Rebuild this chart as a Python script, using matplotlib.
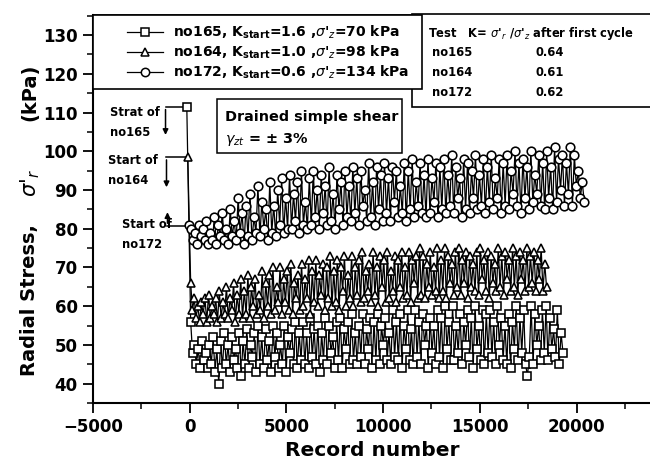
import numpy as np
import matplotlib
matplotlib.use("Agg")
import matplotlib.pyplot as plt
from matplotlib.lines import Line2D
from matplotlib.patches import Rectangle

plt.rcParams['font.family'] = ['DejaVu Sans']

# ---------------- data ----------------
# start points (record, radial stress kPa)
start_165 = (-150, 111.5)
start_164 = (-100, 98.5)
start_172 = (-50, 81.0)

# no165 (squares) radial stress during cycling, records 50 .. 19300
y165 = [56, 48, 50, 45, 49, 44, 51, 46, 48, 44,
        50, 45, 52, 43, 49, 40, 51, 44, 53, 45,
        50, 43, 52, 46, 49, 44, 53, 42, 51, 45,
        54, 44, 50, 47, 53, 43, 55, 45, 52, 44,
        54, 46, 51, 43, 55, 47, 53, 44, 50, 45,
        55, 43, 52, 48, 54, 45, 56, 44, 53, 46,
        56, 45, 53, 44, 57, 47, 54, 45, 55, 43,
        53, 46, 57, 45, 55, 48, 52, 44, 56, 46,
        57, 44, 54, 49, 56, 45, 58, 46, 53, 45,
        55, 47, 58, 45, 54, 49, 57, 44, 56, 46,
        58, 45, 55, 50, 57, 46, 53, 45, 59, 47,
        56, 46, 58, 44, 55, 49, 59, 46, 54, 45,
        59, 47, 56, 45, 58, 50, 55, 44, 57, 48,
        55, 45, 59, 47, 57, 44, 60, 49, 56, 46,
        60, 46, 55, 48, 58, 45, 56, 50, 59, 47,
        57, 44, 60, 49, 55, 46, 59, 45, 58, 48,
        59, 47, 56, 45, 60, 50, 57, 46, 55, 45,
        58, 44, 56, 49, 60, 46, 57, 48, 59, 45,
        42, 47, 60, 45, 58, 50, 55, 46, 59, 48,
        60, 46, 57, 49, 54, 47, 59, 45, 53, 48]
rec165 = (50, 19300)

# no164 (triangles), records 50 .. 18450
y164 = [66, 59, 62, 57, 60, 56, 61, 58, 62, 56,
        63, 57, 60, 58, 62, 56, 64, 57, 61, 58,
        65, 57, 62, 59, 66, 56, 63, 58, 67, 57,
        64, 58, 68, 57, 65, 60, 67, 58, 63, 59,
        69, 57, 66, 60, 68, 58, 70, 59, 65, 61,
        70, 58, 67, 61, 69, 59, 71, 58, 66, 62,
        68, 59, 71, 60, 67, 62, 72, 58, 69, 61,
        72, 60, 68, 63, 71, 59, 70, 62, 73, 60,
        69, 61, 72, 59, 70, 64, 73, 60, 68, 62,
        73, 60, 70, 63, 72, 61, 74, 62, 69, 64,
        71, 61, 74, 63, 70, 60, 73, 65, 72, 61,
        74, 62, 69, 64, 73, 61, 72, 65, 74, 62,
        70, 63, 74, 61, 72, 66, 73, 62, 75, 63,
        73, 62, 71, 65, 74, 63, 70, 64, 75, 62,
        72, 64, 75, 62, 73, 66, 71, 63, 74, 65,
        75, 63, 72, 66, 74, 62, 73, 65, 71, 64,
        74, 63, 75, 67, 72, 64, 74, 62, 73, 66,
        71, 64, 75, 65, 73, 63, 74, 67, 72, 64,
        75, 65, 73, 63, 74, 67, 72, 64, 75, 65,
        73, 66, 74, 64, 72, 67, 75, 64, 71, 65]
rec164 = (50, 18450)

# no172 (circles), records 50 .. 20400
y172 = [80, 77, 79, 76, 81, 78, 80, 77, 82, 76,
        79, 77, 83, 76, 81, 78, 84, 77, 80, 76,
        85, 78, 82, 77, 88, 79, 84, 76, 86, 78,
        89, 77, 83, 79, 91, 78, 87, 80, 85, 77,
        92, 79, 86, 78, 90, 81, 93, 79, 88, 80,
        94, 80, 89, 82, 92, 79, 95, 81, 87, 80,
        93, 81, 95, 83, 90, 80, 94, 84, 91, 81,
        96, 82, 89, 80, 94, 85, 92, 81, 95, 83,
        91, 82, 96, 84, 93, 81, 95, 86, 90, 82,
        97, 83, 92, 81, 96, 85, 94, 82, 97, 84,
        93, 82, 96, 87, 95, 83, 91, 84, 97, 82,
        95, 85, 98, 83, 92, 86, 97, 84, 94, 83,
        98, 84, 93, 87, 97, 83, 96, 85, 98, 84,
        94, 86, 99, 84, 96, 88, 93, 83, 98, 85,
        97, 84, 95, 88, 99, 85, 94, 86, 98, 84,
        96, 87, 99, 85, 93, 88, 98, 84, 97, 86,
        99, 85, 95, 89, 100, 86, 97, 84, 98, 88,
        96, 85, 100, 87, 94, 89, 99, 86, 97, 85,
        100, 88, 96, 85, 101, 87, 98, 90, 99, 86,
        97, 89, 101, 86, 99, 91, 95, 88, 92, 87]
rec172 = (50, 20400)

labels = [r"no165, K$_{\mathbf{start}}$=1.6 ,$\sigma$'$_z$=70 kPa",
          r"no164, K$_{\mathbf{start}}$=1.0 ,$\sigma$'$_z$=98 kPa",
          r"no172, K$_{\mathbf{start}}$=0.6 ,$\sigma$'$_z$=134 kPa"]
table_tests = ["no165", "no164", "no172"]
table_K = ["0.64", "0.61", "0.62"]

xticks = [-5000, 0, 5000, 10000, 15000, 20000]
yticks = [40, 50, 60, 70, 80, 90, 100, 110, 120, 130]

# ---------------- figure ----------------
W, H = 650, 459
fig = plt.figure(figsize=(W / 100, H / 100), dpi=100)
ax = fig.add_axes([93 / W, 1 - 403 / H, (W - 93) / W, (403 - 15) / H])

def fx(px):
    return px / W

def fy(py):
    return 1 - py / H

def series(start, yv, rec):
    x = np.concatenate([[start[0]], np.linspace(rec[0], rec[1], len(yv))])
    y = np.concatenate([[start[1]], yv])
    return x, y

mk = dict(color='black', lw=0.9, mfc='white', mec='black', mew=1.15)
x1, y1 = series(start_165, y165, rec165)
x2, y2 = series(start_164, y164, rec164)
x3, y3 = series(start_172, y172, rec172)
ax.plot(x1, y1, marker='s', ms=5.4, **mk, zorder=3)
ax.plot(x2, y2, marker='^', ms=6.2, **mk, zorder=4)
ax.plot(x3, y3, marker='o', ms=6.2, **mk, zorder=5)

ax.set_xlim(-5000, 23800)
ax.set_ylim(35, 135.2)
ax.set_xticks(xticks)
ax.set_yticks(yticks)
ax.set_xticks(np.arange(-5000, 23800, 2500), minor=True)
ax.set_yticks(np.arange(35, 135.5, 5), minor=True)
ax.tick_params(which='major', direction='out', length=7, width=1.3, labelsize=12, pad=4)
ax.tick_params(which='minor', direction='out', length=4, width=1.1)
for lab in ax.get_xticklabels() + ax.get_yticklabels():
    lab.set_fontweight('bold')
ax.spines['right'].set_visible(False)
for s in ['left', 'bottom']:
    ax.spines[s].set_linewidth(1.5)
ax.spines['top'].set_linewidth(1.2)

# axis labels
fig.text(fx(372), fy(450), "Record number", fontsize=14.5, fontweight='bold',
         ha='center', va='center')
fig.text(fx(30), fy(300), "Radial Stress,", fontsize=14, fontweight='bold',
         rotation=90, ha='center', va='center')
fig.text(fx(30), fy(183), r"$\sigma$'$_r$", fontsize=15, fontweight='normal',
         rotation=90, ha='center', va='center')
fig.text(fx(30), fy(92), "(kPa)", fontsize=14, fontweight='bold',
         rotation=90, ha='center', va='center')

# table box (behind legend)
fig.add_artist(Rectangle((fx(412), fy(107)), fx(700) - fx(412), fy(14) - fy(107),
                         transform=fig.transFigure, fill=True, fc='white',
                         ec='black', lw=1.2, zorder=6))
fig.text(fx(428), fy(33), r"Test   K= $\sigma$'$_r$ /$\sigma$'$_z$ after first cycle",
         fontsize=8.3, fontweight='bold', va='center', zorder=7)
for i, (t, k) in enumerate(zip(table_tests, table_K)):
    fig.text(fx(432), fy(53 + 20 * i), t, fontsize=8.3, fontweight='bold', va='center', zorder=7)
    fig.text(fx(535), fy(53 + 20 * i), k, fontsize=8.3, fontweight='bold', va='center', zorder=7)

# legend box
fig.add_artist(Rectangle((fx(93), fy(89)), fx(422) - fx(93), fy(15) - fy(89),
                         transform=fig.transFigure, fc='white', ec='black',
                         lw=1.2, zorder=8))
for i, (m, lab) in enumerate(zip(['s', '^', 'o'], labels)):
    yy = fy(32 + 20 * i)
    fig.add_artist(Line2D([fx(127), fx(163)], [yy, yy], color='black', lw=0.9,
                          transform=fig.transFigure, zorder=9))
    fig.add_artist(Line2D([fx(145)], [yy], marker=m, ms=6 if m != 's' else 5.2,
                          mfc='white', mec='black', mew=1.1, ls='none',
                          transform=fig.transFigure, zorder=10))
    fig.text(fx(173), yy, lab, fontsize=10, fontweight='bold', va='center', zorder=10)

# Drained simple shear box
fig.add_artist(Rectangle((fx(217), fy(153)), fx(402) - fx(217), fy(99) - fy(153),
                         transform=fig.transFigure, fc='white', ec='black',
                         lw=1.1, zorder=6))
fig.text(fx(225), fy(117), "Drained simple shear", fontsize=10.4, fontweight='bold',
         va='center', zorder=7)
fig.text(fx(225), fy(140), r"$\gamma_{zt}$ = ± 3%", fontsize=10.4, fontweight='bold',
         va='center', zorder=7)

# start annotations
arrow = dict(arrowstyle='-|>', color='black', lw=1.1, mutation_scale=8)
off = -1100
ax.plot([start_165[0], start_165[0] + off], [start_165[1], start_165[1]], color='black', lw=1.1)
ax.annotate("", xy=(start_165[0] + off, 103.5), xytext=(start_165[0] + off, start_165[1]),
            arrowprops=arrow)
ax.plot([start_164[0], start_164[0] + off], [start_164[1], start_164[1]], color='black', lw=1.1)
ax.annotate("", xy=(start_164[0] + off, 90), xytext=(start_164[0] + off, start_164[1]),
            arrowprops=arrow)
ax.plot([start_172[0], start_172[0] + off], [start_172[1] - 0.3, start_172[1] - 0.3], color='black', lw=1.1)
ax.annotate("", xy=(start_172[0] + off, 85), xytext=(start_172[0] + off, start_172[1] - 0.3),
            arrowprops=arrow)

ax.text(-4100, 111.8, "Strat of\nno165", fontsize=8.3, fontweight='bold', va='top', linespacing=1.7)
ax.text(-4200, 99.3, "Start of\nno164", fontsize=8.3, fontweight='bold', va='top', linespacing=1.7)
ax.text(-3500, 82.8, "Start of\nno172", fontsize=8.3, fontweight='bold', va='top', linespacing=1.7)

fig.savefig("out.png", dpi=100)
